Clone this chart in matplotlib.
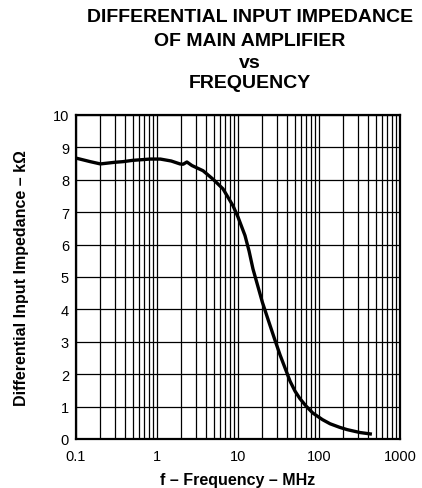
import matplotlib
matplotlib.use("Agg")
import matplotlib.pyplot as plt
from matplotlib.ticker import LogLocator, FixedLocator, NullFormatter

plt.rcParams['font.family'] = ['Liberation Sans', 'DejaVu Sans']

freq_mhz = [0.1, 0.15, 0.2, 0.3, 0.38, 0.5, 0.82, 1.1, 1.5, 1.92, 2.1, 2.34, 2.7,
            3.7, 4.91, 6.53, 8.67, 10, 12.2, 13.7, 15.3, 20, 24, 28.6, 33, 44, 50.5, 58, 69, 84,
            110, 137, 180, 222, 320, 450]
impedance_kohm = [8.67, 8.56, 8.49, 8.54, 8.56, 8.6, 8.64, 8.64, 8.58, 8.49, 8.48, 8.55, 8.44,
                  8.28, 8.02, 7.72, 7.2, 6.85, 6.28, 5.8, 5.25, 4.22, 3.62, 3.05, 2.6, 1.78, 1.48, 1.25, 1.02, 0.8,
                  0.6, 0.47, 0.36, 0.29, 0.2, 0.15]

title_lines = ["DIFFERENTIAL INPUT IMPEDANCE", "OF MAIN AMPLIFIER", "vs", "FREQUENCY"]
x_ticks = [0.1, 1, 10, 100, 1000]
x_tick_labels = ["0.1", "1", "10", "100", "1000"]
y_ticks = [0, 1, 2, 3, 4, 5, 6, 7, 8, 9, 10]

fig = plt.figure(figsize=(4.22, 4.89), dpi=100)
ax = fig.add_axes([76/422, 1-440/489, (400-76)/422, (440-116)/489])

ax.plot(freq_mhz, impedance_kohm, color='black', lw=2.4, solid_capstyle='butt',
        solid_joinstyle='round', zorder=3)

ax.set_xscale('log')
ax.set_xlim(0.1, 1000)
ax.set_ylim(0, 10)
ax.xaxis.set_major_locator(FixedLocator(x_ticks))
ax.set_xticklabels(x_tick_labels)
ax.xaxis.set_minor_locator(LogLocator(base=10, subs=range(2, 10), numticks=20))
ax.xaxis.set_minor_formatter(NullFormatter())
ax.set_yticks(y_ticks)

ax.grid(True, which='both', axis='x', color='black', lw=0.9)
ax.grid(True, which='major', axis='y', color='black', lw=0.9)
ax.tick_params(which='both', length=0, labelsize=10.5, colors='black')
ax.tick_params(axis='x', pad=7)
ax.tick_params(axis='y', pad=5)
for s in ax.spines.values():
    s.set_linewidth(1.6)

ax.set_xlabel("f – Frequency – MHz", fontsize=11.5, fontweight='bold', labelpad=7)
ax.set_ylabel("Differential Input Impedance – kΩ", fontsize=11.5, fontweight='bold', labelpad=17)

ys = [18, 41, 63, 84]
for t, y in zip(title_lines, ys):
    fig.text(250/422, 1 - y/489, t, ha='center', va='center', fontsize=14, fontweight='bold')

fig.savefig("out.png", dpi=100)
